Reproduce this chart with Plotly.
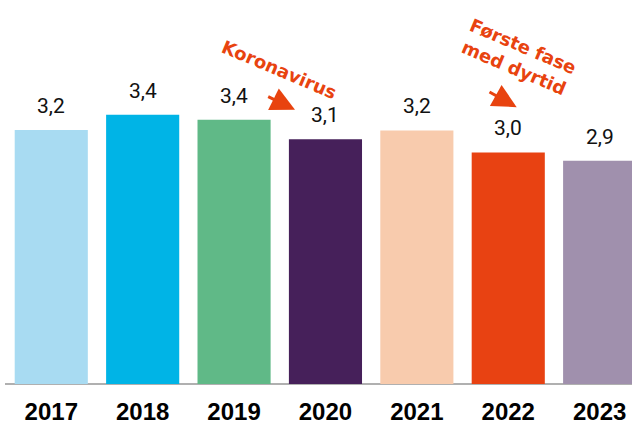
import plotly.graph_objects as go

years = ["2017", "2018", "2019", "2020", "2021", "2022", "2023"]
values = [3.245, 3.41, 3.355, 3.145, 3.24, 3.0, 2.91]
colors = ["#A8DBF2", "#00B4E6", "#60B987", "#46205A", "#F8CBAD", "#E84212", "#A090AD"]
labels = [f"{v:.1f}".replace(".", ",") for v in values]

W, H = 632, 425
PLOT_H = 387
ORANGE = "#E8430F"

fig = go.Figure(go.Bar(x=list(range(len(years))), y=values,
                       marker=dict(color=colors, line=dict(width=0)), hoverinfo="skip"))

annotations = []
for i, (v, t) in enumerate(zip(values, labels)):
    annotations.append(dict(x=i, y=v, text=t, showarrow=False, yanchor="middle",
                            yshift=24, font=dict(family="Roboto", size=21, color="#111111")))

def px(xp, yp):
    return xp / W, 1 - yp / PLOT_H

kx, ky = px(279, 70)
annotations.append(dict(x=kx, y=ky, xref="paper", yref="paper", text="<b>Koronavirus</b>",
                        showarrow=False, textangle=23, xanchor="center", yanchor="middle",
                        font=dict(family="DejaVu Sans", size=18, color=ORANGE)))
fx, fy = px(519, 57)
annotations.append(dict(x=fx, y=fy, xref="paper", yref="paper",
                        text="<b>Første fase<br>med dyrtid</b>",
                        showarrow=False, textangle=23, xanchor="center", yanchor="middle",
                        font=dict(family="DejaVu Sans", size=18, color=ORANGE)))
for (tx, ty), (sx, sy) in [((295, 110.7), (266.7, 96.7)), ((516.7, 108), (488, 92))]:
    ax_, ay_ = px(tx, ty)
    annotations.append(dict(x=ax_, y=ay_, xref="paper", yref="paper", text="",
                            showarrow=True, arrowhead=2, arrowsize=1.6, arrowwidth=3,
                            arrowcolor=ORANGE, ax=sx - tx, ay=sy - ty, standoff=0))

fig.update_layout(
    width=W, height=H,
    margin=dict(l=0, r=0, t=0, b=H - PLOT_H, pad=0),
    paper_bgcolor="white", plot_bgcolor="white",
    bargap=0.2, showlegend=False,
    annotations=annotations,
    shapes=[dict(type="line", xref="paper", yref="paper", x0=5 / W, x1=1, y0=0, y1=0,
                 line=dict(color="#B0B0B0", width=2), layer="below")],
    xaxis=dict(range=[-0.561, 6.354], showline=False, zeroline=False,
               ticks="", showgrid=False,
               tickmode="array", tickvals=list(range(len(years))), ticktext=years,
               ticklabelstandoff=11,
               tickfont=dict(family="Liberation Sans", size=24, color="black", weight="bold")),
    yaxis=dict(range=[0.48, 0.48 + PLOT_H / 92.6], visible=False, showgrid=False),
)

fig.write_html("out.html", config={"displayModeBar": False},
               post_script="document.body.style.margin='0';")
